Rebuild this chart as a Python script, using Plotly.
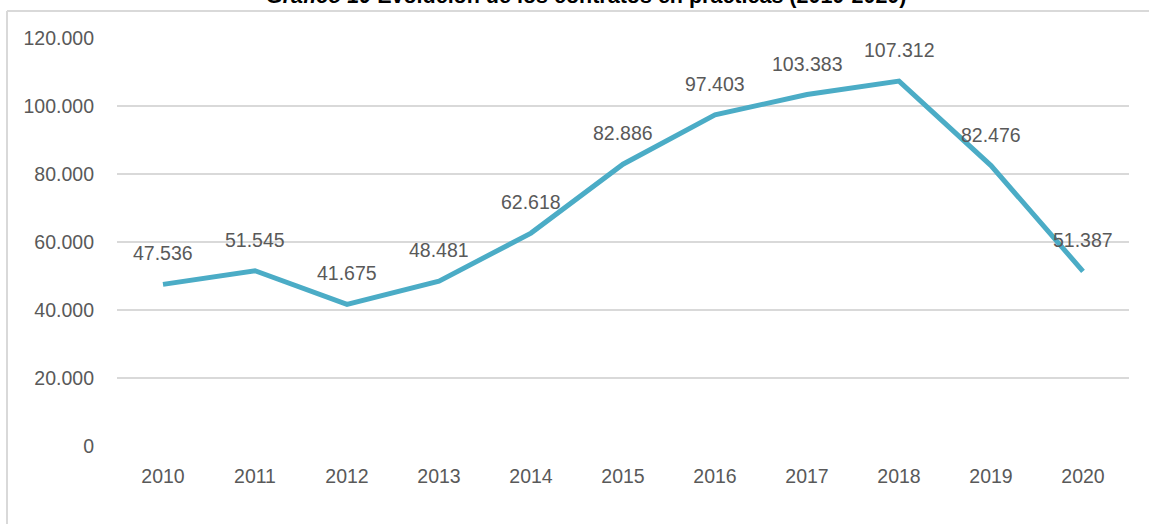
import plotly.graph_objects as go

years = [2010, 2011, 2012, 2013, 2014, 2015, 2016, 2017, 2018, 2019, 2020]
contracts = [47536, 51545, 41675, 48481, 62618, 82886, 97403, 103383, 107312, 82476, 51387]
y_ticks = [0, 20000, 40000, 60000, 80000, 100000, 120000]
title_text = "<b><i>Gráfico 10</i> Evolución de los contratos en prácticas (2010-2020)</b>"

LINE_COLOR = "#4BACC6"
TEXT_COLOR = "#595959"
GRID_COLOR = "#D9D9D9"
FONT = "Liberation Sans, Arial, sans-serif"
FS = 19.5

def fmt(v):
    return f"{v:,}".replace(",", ".")

fig = go.Figure()
fig.add_trace(go.Scatter(
    x=years, y=contracts, mode="lines",
    line=dict(color=LINE_COLOR, width=5),
    hoverinfo="skip", showlegend=False,
))

for x, v in zip(years, contracts):
    fig.add_annotation(x=x, y=v, text=fmt(v), showarrow=False,
                       yshift=31, font=dict(family=FONT, size=FS, color=TEXT_COLOR))

fig.add_annotation(xref="paper", yref="paper", x=0.4634, y=1.068,
                   xanchor="center", yanchor="bottom", text=title_text, showarrow=False,
                   font=dict(family=FONT, size=21.5, color="#000000"))

# outer frame lines
fig.add_shape(type="line", xref="paper", yref="paper", x0=-0.1087, x1=1.02, y0=1.066, y1=1.066,
              line=dict(color=GRID_COLOR, width=2))
fig.add_shape(type="line", xref="paper", yref="paper", x0=-0.1087, x1=-0.1087, y0=1.066, y1=-0.2,
              line=dict(color=GRID_COLOR, width=2))

fig.update_layout(
    width=1149, height=524,
    margin=dict(l=117, r=20, t=38, b=78),
    paper_bgcolor="white", plot_bgcolor="white",
    separators=",.",
    xaxis=dict(range=[2009.5, 2020.5], tickmode="array", tickvals=years,
               ticktext=[str(y) for y in years], showgrid=False, zeroline=False,
               showline=False, ticks="", ticklabelstandoff=16,
               tickfont=dict(family=FONT, size=FS, color=TEXT_COLOR)),
    yaxis=dict(range=[0, 120000], tickmode="array", tickvals=y_ticks,
               ticktext=[fmt(t) for t in y_ticks], showgrid=True, gridcolor=GRID_COLOR,
               gridwidth=1.5, zeroline=False, showline=False, ticks="", ticklabelstandoff=22,
               tickfont=dict(family=FONT, size=FS, color=TEXT_COLOR)),
)

fig.write_html("out.html", config={"displayModeBar": False},
               post_script="document.body.style.margin='0';")
